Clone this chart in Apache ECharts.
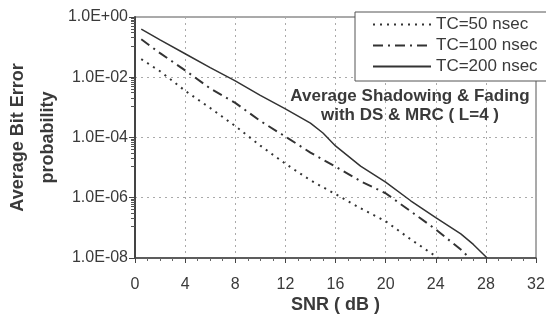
<!DOCTYPE html>
<html>
<head>
<meta charset="utf-8">
<script src="https://cdn.jsdelivr.net/npm/echarts@6/dist/echarts.min.js"></script>
<style>
  html, body { margin: 0; padding: 0; background: #fff; }
  #chart { width: 546px; height: 320px; }
</style>
</head>
<body>
<div id="chart"></div>
<script>
// SNR (dB) points and log10 of bit error probability
const snr50 = [0.5, 2, 4, 6, 8, 10, 12, 14, 16, 18, 20, 22, 24.2]
const logBer50 = [-1.4, -1.8, -2.45, -3.02, -3.62, -4.27, -4.87, -5.42, -5.88, -6.35, -6.78, -7.38, -8]

const snr100 = [0.5, 2, 4, 6, 8, 10, 12, 14, 16, 18, 20, 22, 24, 26, 26.7]
const logBer100 = [-0.74, -1.2, -1.77, -2.37, -2.85, -3.45, -3.97, -4.5, -4.97, -5.45, -5.85, -6.45, -7.05, -7.72, -8]

const snr200 = [0.5, 2, 4, 6, 8, 10, 12, 14, 15, 16, 18, 20, 22, 24, 26, 27, 28.1]
const logBer200 = [-0.4, -0.76, -1.22, -1.68, -2.12, -2.6, -3.05, -3.52, -3.85, -4.28, -4.95, -5.48, -6.1, -6.66, -7.2, -7.55, -8]

const seriesNames = ['TC=50 nsec', 'TC=100 nsec', 'TC=200 nsec']
const xTicks = [0, 32, 4]
const noteLines = ['Average Shadowing & Fading', 'with DS & MRC ( L=4 )']

const font = "'Liberation Sans', Arial, sans-serif"
const ink = '#3a3a3a'

function toPairs(xs, logs) {
  return xs.map((x, i) => [x, Math.pow(10, logs[i])])
}

function sciLabel(v) {
  const e = Math.round(Math.log10(v))
  const sign = e < 0 ? '-' : '+'
  const abs = Math.abs(e)
  return '1.0E' + sign + (abs < 10 ? '0' + abs : abs)
}

const chart = echarts.init(document.getElementById('chart'))
const option = {
  backgroundColor: '#fff',
  animation: false,
  textStyle: { fontFamily: font },
  grid: {
    left: 135,
    right: 10,
    top: 17,
    bottom: 62,
    outerBoundsMode: 'none',
    containLabel: false,
    show: true,
    borderColor: '#555',
    borderWidth: 1,
  },
  legend: {
    orient: 'vertical',
    left: 355,
    top: 12,
    data: seriesNames,
    itemWidth: 58,
    itemHeight: 14,
    itemGap: 4,
    padding: [4, 20, 6, 17],
    backgroundColor: '#fff',
    borderColor: '#555',
    borderWidth: 1,
    borderRadius: 0,
    itemStyle: { color: 'transparent', borderColor: 'transparent', borderWidth: 0 },
    textStyle: { fontSize: 17, lineHeight: 14, color: ink, fontFamily: font },
  },
  xAxis: {
    type: 'value',
    min: xTicks[0],
    max: xTicks[1],
    interval: xTicks[2],
    name: 'SNR ( dB )',
    nameLocation: 'middle',
    nameGap: 38,
    nameMoveOverlap: false,
    nameTextStyle: { fontSize: 18, fontWeight: 'bold', color: ink, fontFamily: font },
    axisLine: { lineStyle: { color: '#444', width: 1.5 } },
    axisTick: { show: true, length: 5, lineStyle: { color: '#444' } },
    minorTick: { show: true, splitNumber: 4, length: 3, lineStyle: { color: '#666' } },
    axisLabel: { fontSize: 16, color: ink, margin: 19, fontFamily: font },
    splitLine: { show: true, lineStyle: { color: '#aaa', type: [2, 4] } },
  },
  yAxis: {
    type: 'log',
    logBase: 10,
    min: 1e-8,
    max: 1,
    interval: 2,
    name: 'Average Bit Error\nprobability',
    nameLocation: 'middle',
    nameGap: 72,
    nameMoveOverlap: false,
    nameTextStyle: { fontSize: 18, fontWeight: 'bold', color: ink, lineHeight: 30, fontFamily: font },
    axisLine: { show: true, lineStyle: { color: '#444', width: 2 } },
    axisTick: { show: true, length: 6, lineStyle: { color: '#444' } },
    minorTick: { show: true, splitNumber: 10, length: 4, lineStyle: { color: '#555' } },
    axisLabel: { fontSize: 16, color: ink, margin: 7, fontFamily: font, formatter: sciLabel },
    splitLine: { show: true, lineStyle: { color: '#aaa', type: [2, 4] } },
  },
  graphic: noteLines.map((line, i) => ({
    type: 'text',
    x: 410,
    y: 88 + i * 19,
    z: 10,
    style: {
      text: line,
      font: 'bold 17px ' + font,
      fill: ink,
      align: 'center',
    },
  })),
  series: [
    {
      name: seriesNames[0],
      type: 'line',
      symbol: 'none',
      data: toPairs(snr50, logBer50),
      lineStyle: { color: '#333', width: 2, type: [2, 5] },
      itemStyle: { color: '#333' },
    },
    {
      name: seriesNames[1],
      type: 'line',
      symbol: 'none',
      data: toPairs(snr100, logBer100),
      lineStyle: { color: '#333', width: 2, type: [10, 5, 2, 5] },
      itemStyle: { color: '#333' },
    },
    {
      name: seriesNames[2],
      type: 'line',
      symbol: 'none',
      data: toPairs(snr200, logBer200),
      lineStyle: { color: '#333', width: 1.5 },
      itemStyle: { color: '#333' },
    },
  ],
}
chart.setOption(option)
window.addEventListener('resize', () => {
  chart.resize()
})
</script>
</body>
</html>
